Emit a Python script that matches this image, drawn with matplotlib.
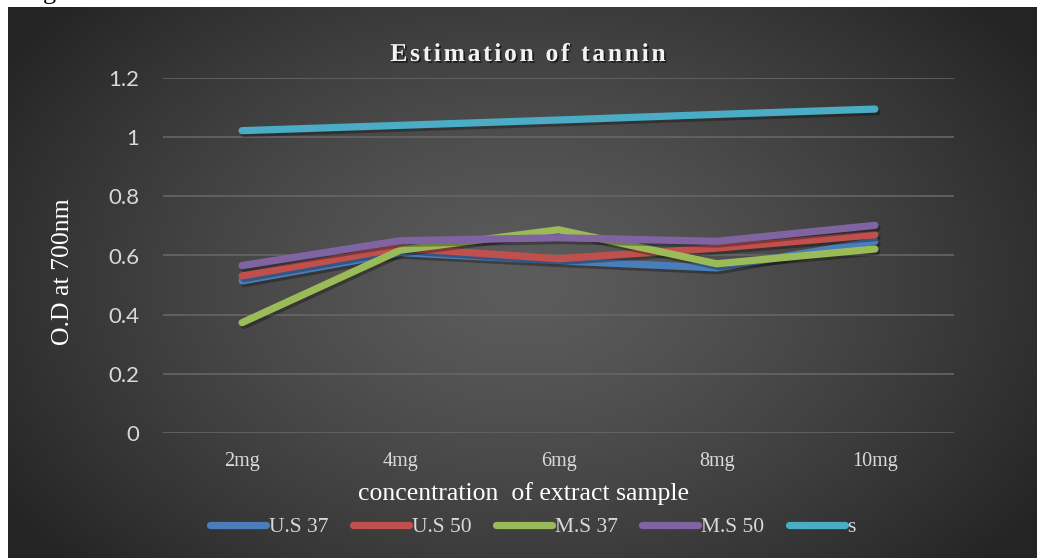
import numpy as np
import matplotlib
matplotlib.use("Agg")
import matplotlib.pyplot as plt
import matplotlib.patheffects as pe
from matplotlib.font_manager import FontProperties, findfont, get_font

# data
doses = ["2mg", "4mg", "6mg", "8mg", "10mg"]
us37 = [0.514, 0.610, 0.582, 0.558, 0.648]
us50 = [0.531, 0.626, 0.589, 0.625, 0.670]
ms37 = [0.373, 0.618, 0.687, 0.572, 0.622]
ms50 = [0.566, 0.650, 0.660, 0.648, 0.702]
s_std = [1.022, 1.040, 1.058, 1.077, 1.095]

series = [
    ("U.S 37", us37, "#4a7ebb"),
    ("U.S 50", us50, "#c0504d"),
    ("M.S 37", ms37, "#9bbb59"),
    ("M.S 50", ms50, "#8064a2"),
    ("s", s_std, "#4bacc6"),
]

W, H = 1038, 558
fig = plt.figure(figsize=(W / 100, H / 100), dpi=100, facecolor="white")

# dark radial gradient panel (Excel chart style)
bg = fig.add_axes([8 / W, 0, (W - 9) / W, 1 - 7 / H], zorder=0)
yy, xx = np.mgrid[0:300, 0:600]
r = np.sqrt(((xx - 300) / 360.0) ** 2 + ((yy - 150) / 230.0) ** 2)
shade = 0x5c - (0x5c - 0x24) * np.clip(r, 0, 1) ** 1.3
img = np.dstack([shade, shade, shade]) / 255.0
bg.imshow(img, aspect="auto", extent=[0, 1, 0, 1], interpolation="bicubic")
bg.axis("off")

# bit of text from the page above, cut off in the reference too
fig.text(43 / W, 1 + 1 / H, "g", family="Liberation Serif", fontsize=19,
         color="black", va="baseline")

ax = fig.add_axes([163 / W, 1 - 433 / H, (954 - 163) / W, (433 - 78) / H],
                  zorder=1)
ax.patch.set_alpha(0)

x = np.arange(len(doses))
shadow = [pe.SimpleLineShadow(offset=(1.5, -2), shadow_color="black", alpha=0.3),
          pe.Normal()]
for name, vals, col in series:
    ax.plot(x, vals, color=col, lw=5.2, solid_capstyle="round",
            solid_joinstyle="round", label=name, path_effects=shadow)

ax.set_xlim(-0.5, len(doses) - 0.5)
ax.set_ylim(0, 1.2)
ax.set_yticks(np.arange(0, 1.21, 0.2))
ax.set_yticklabels(["0", "0.2", "0.4", "0.6", "0.8", "1", "1.2"])
ax.set_xticks(x)
ax.set_xticklabels(doses)
ax.grid(axis="y", color="#666666", lw=1.2)
ax.set_axisbelow(True)
for sp in ax.spines.values():
    sp.set_visible(False)
ax.tick_params(axis="y", length=0, pad=17, labelcolor="#d9d9d9", labelsize=16)
ax.tick_params(axis="x", length=0, pad=14, labelcolor="#d9d9d9", labelsize=14.5)
for lab in ax.get_yticklabels():
    lab.set_family("Lato")
for lab in ax.get_xticklabels():
    lab.set_family("Liberation Serif")

fig.text(63 / W, 1 - 272 / H, "O.D at 700nm", rotation=90, ha="center",
         va="center", family="Liberation Serif", fontsize=18.5, color="white")
fig.text(524 / W, 1 - 494 / H, "concentration  of extract sample", ha="center",
         va="center", family="Liberation Serif", fontsize=18.5, color="white")

# letter-spaced bold title with shadow
title = "Estimation of tannin"
tsize = 18.5
fp = FontProperties(family="Liberation Serif", weight="bold", size=tsize)
font = get_font(findfont(fp))
font.set_size(tsize, 100)
adv = [font.load_char(ord(c)).linearHoriAdvance / 65536 for c in title]
track = 2.6
total = sum(adv) + track * (len(title) - 1)
xpos = 528 - total / 2
tshadow = [pe.SimplePatchShadow(offset=(1.2, -1.2), shadow_rgbFace="black",
                                alpha=0.6), pe.Normal()]
for c, a in zip(title, adv):
    if c != " ":
        fig.text(xpos / W, 1 - 61 / H, c, fontproperties=fp, color="#f2f2f2",
                 va="baseline", ha="left", path_effects=tshadow)
    xpos += a + track

leg = fig.legend(loc="center", bbox_to_anchor=(533 / W, 1 - 527 / H), ncol=5,
                 frameon=False, handlelength=2.6, handletextpad=0.12,
                 columnspacing=1.15,
                 prop=FontProperties(family="Liberation Serif", size=15.5))
for t in leg.get_texts():
    t.set_color("#d9d9d9")
for h in leg.get_lines():
    h.set_linewidth(5.2)
    h.set_solid_capstyle("round")
    h.set_path_effects([])

fig.savefig("out.png", dpi=100, facecolor="white")
